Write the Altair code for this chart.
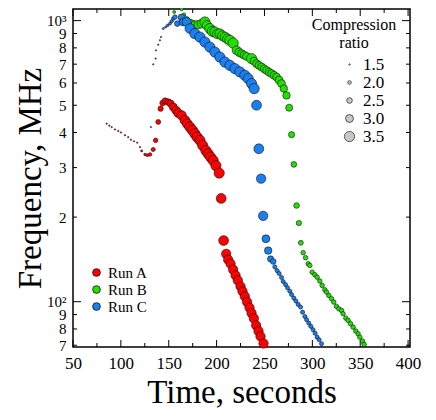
import altair as alt
import pandas as pd

# ---------------- data ----------------
runs = ["Run A", "Run B", "Run C"]
colors = ["#ff0000", "#22e000", "#1a7ff0"]

# Run A (red)
tA = [85.2, 87.9, 90.4, 93.8, 97.3, 100.1, 104.3, 107.7, 110.5, 113.7,
      117.1, 119.9, 121.7, 125.2, 127.6, 130.4, 133.8, 136.3, 139.0, 141.5,
      143.6, 146.3, 149.5, 152.0, 154.7, 157.5, 159.9, 163.5, 166.9, 169.3,
      172.1, 174.9, 177.3, 179.7, 182.6, 185.4, 188.8, 191.2, 193.7, 196.4,
      199.3, 202.7, 204.8, 207.3, 210.0, 212.1, 214.6, 217.3, 219.8, 222.2,
      225.0, 227.1, 229.5, 231.9, 234.4, 236.5, 238.9, 241.3, 243.8, 245.9,
      249.0]
fA = [430, 423, 418, 410, 405, 400, 391, 385, 377, 372,
      368, 355, 344, 334, 332, 334, 348, 375, 436, 486,
      509, 518, 513, 507, 493, 480, 469, 460, 442, 430,
      418, 407, 396, 385, 375, 360, 345, 336, 327, 318,
      305, 287, 233, 165, 148, 141, 136.5, 130, 124, 119,
      113.3, 108.8, 104.4, 99.7, 95.2, 91.1, 87.2, 82.4, 78.6, 75.2,
      71.0]
cA = [1.5, 1.5, 1.5, 1.5, 1.5, 1.5, 1.5, 1.5, 1.5, 1.5,
      1.5, 1.5, 1.6, 1.7, 1.8, 2.0, 2.1, 2.2, 2.3, 2.4,
      2.5, 2.6, 2.7, 2.8, 3.0, 3.1, 3.2, 3.3, 3.4, 3.4,
      3.5, 3.5, 3.5, 3.5, 3.5, 3.5, 3.5, 3.5, 3.5, 3.5,
      3.5, 3.5, 3.4, 3.4, 3.3, 3.3, 3.3, 3.3, 3.3, 3.3,
      3.3, 3.3, 3.3, 3.3, 3.3, 3.3, 3.3, 3.3, 3.3, 3.3,
      3.3]

# Run B (green)
tB = [155.7, 163.5, 165.9, 168.7, 171.1, 173.9, 177.3, 180.8, 184.3, 187.8,
      189.9, 193.0, 195.6, 198.2, 200.8, 203.4, 206.0, 208.7, 211.3, 213.9,
      217.3, 220.9, 223.5, 226.1, 228.7, 231.3, 236.5, 239.0, 241.7, 244.3,
      247.0, 249.6, 252.2, 254.8, 257.4, 260.0, 262.6, 265.2, 267.8, 270.2,
      273.0, 275.8, 278.3, 280.7, 283.5, 285.9, 288.0,
      290.4, 292.9, 295.6, 297.4, 299.8, 302.6, 305.0, 307.8, 310.2, 313.0,
      314.8, 317.2, 320.0, 322.4, 325.2, 327.7, 330.5, 332.1, 335.0, 337.4,
      339.9, 342.6, 345.4, 347.8, 349.6, 352.4, 354.1]
fB = [1073, 1100, 1050, 1011, 986, 976, 968, 968, 976, 989,
      962, 937, 916, 911, 897, 898, 883, 874, 861, 851,
      832, 784, 772, 763, 754, 746, 733, 718, 703, 693,
      684, 674, 665, 656, 648, 639, 630, 615, 597, 573,
      542, 490, 393, 308, 220, 190.5, 162,
      149.4, 143.4, 136.5, 134.6, 127.4, 124.7, 122.2, 118.4, 114.3, 110.3,
      108.2, 105.3, 102.5, 99.7, 96.2, 94.4, 93.1, 90.6, 87.4, 85.8,
      83.5, 81.2, 78.6, 76.9, 74.8, 72.4, 70.5]
cB = [1.8, 2.0, 2.0, 2.5, 2.8, 3.0, 3.0, 3.1, 3.2, 3.5,
      3.3, 3.5, 3.5, 3.5, 3.4, 3.4, 3.4, 3.4, 3.4, 3.5,
      3.5, 3.2, 3.1, 3.0, 3.0, 3.0, 3.5, 3.0, 3.0, 3.0,
      3.0, 3.0, 3.0, 3.0, 3.0, 3.0, 3.0, 3.0, 3.0, 2.9,
      2.9, 2.8, 2.6, 2.5, 2.5, 2.4, 2.3,
      2.2, 2.2, 2.2, 2.2, 2.2, 2.2, 2.2, 2.2, 2.2, 2.2,
      2.2, 2.2, 2.2, 2.2, 2.2, 2.2, 2.2, 2.2, 2.2, 2.2,
      2.2, 2.2, 2.2, 2.2, 2.2, 2.2, 2.2]

# Run C (blue)
tC = [131.4, 133.8, 136.3, 136.6, 139.0, 140.8, 141.9, 144.3, 146.8, 148.9,
      151.3, 153.0, 154.7, 156.5, 158.9, 163.5, 165.2, 168.7, 172.1, 177.3,
      182.6, 187.8, 193.0, 198.2, 203.4, 208.7, 213.9, 219.1, 224.3, 229.5,
      233.0, 236.5, 239.2, 241.7, 244.1, 246.5, 248.6, 251.5, 253.9, 256.4,
      259.1, 260.8, 263.2, 265.3, 267.8, 269.5, 272.0, 274.1, 276.5, 278.3,
      280.7, 282.8, 285.2, 287.7, 289.8, 292.2, 294.0, 296.3, 298.4, 300.8,
      302.9, 305.0, 307.1, 309.6]
fC = [418, 699, 733, 784, 821, 851, 874, 937, 949, 962,
      976, 994, 1016, 1030, 976, 1025, 989, 989, 937, 899,
      874, 839, 805, 773, 742, 712, 693, 675, 657, 639,
      622, 597, 573, 500, 350, 274, 202, 167.5, 152, 142,
      139, 133, 129, 126, 122, 118, 115, 112, 109, 106,
      103, 100.5, 97.8, 95.7, 91.8, 88.6, 86.3, 83.9, 81.7, 79.5,
      77.2, 74.8, 73.2, 70.9]
cC = [1.5, 1.5, 1.5, 1.5, 1.5, 1.5, 1.5, 1.6, 1.6, 1.7,
      1.8, 1.9, 2.0, 2.2, 2.5, 2.8, 3.0, 3.2, 3.4, 3.5,
      3.5, 3.5, 3.5, 3.5, 3.5, 3.5, 3.5, 3.5, 3.5, 3.5,
      3.5, 3.5, 3.5, 3.4, 3.4, 3.3, 3.3, 3.0, 2.9, 2.6,
      2.5, 2.1, 2.1, 2.1, 2.1, 2.1, 2.1, 2.1, 2.1, 2.1,
      2.1, 2.1, 2.1, 2.1, 2.1, 2.1, 2.1, 2.1, 2.1, 2.1,
      2.1, 2.1, 2.1, 2.1]

x_ticks = [50, 100, 150, 200, 250, 300, 350, 400]
x_minor = [75, 125, 175, 225, 275, 325, 375]
y_ticks = [70, 80, 90, 100, 200, 300, 400, 500, 600, 700, 800, 900, 1000]
y_major = [100, 1000]
y_minor = [70, 80, 90, 200, 300, 400, 500, 600, 700, 800, 900]
ratio_values = [1.5, 2.0, 2.5, 3.0, 3.5]

# ---------------- build ----------------
rows = []
for name, ts, fs, cs in [("Run A", tA, fA, cA), ("Run B", tB, fB, cB), ("Run C", tC, fC, cC)]:
    for t, f, c in zip(ts, fs, cs):
        rows.append({"run": name, "time": t, "freq": f, "ratio": c})
df = pd.DataFrame(rows)

W, H = 337, 338
FONT = "Liberation Serif"

xscale = alt.Scale(domain=[50, 402], nice=False, zero=False)
yscale = alt.Scale(type="log", domain=[69, 1100], nice=False)

points = alt.Chart(df).mark_circle(opacity=1, stroke="#111111", strokeWidth=0.6).encode(
    x=alt.X("time:Q", scale=xscale,
            axis=alt.Axis(values=x_ticks, title="Time, seconds", ticks=False, tickSize=0,
                          domain=False, grid=False, labelFontSize=17, labelPadding=8,
                          titleFontSize=33, titleFontWeight="normal", titlePadding=5,
                          labelFlush=False, labelOverlap=False)),
    y=alt.Y("freq:Q", scale=yscale,
            axis=alt.Axis(values=y_ticks, title="Frequency, MHz", ticks=False, tickSize=0,
                          domain=False, grid=False, labelFontSize=15, labelPadding=7,
                          labelExpr="datum.value == 1000 ? '10³' : datum.value == 100 ? '10²' : format(datum.value / (datum.value >= 100 ? 100 : 10), 'd')",
                          titleFontSize=33, titleFontWeight="normal", titlePadding=-1,
                          labelFlush=False, labelOverlap=False)),
    color=alt.Color("run:N", scale=alt.Scale(domain=runs, range=colors),
                    legend=alt.Legend(title=None, orient="none", legendX=16, legendY=256,
                                      symbolType="circle", symbolSize=60,
                                      symbolStrokeColor="#111111", symbolStrokeWidth=0.8,
                                      labelFontSize=15, labelFont=FONT, rowPadding=1,
                                      labelOffset=4)),
    size=alt.Size("ratio:Q",
                  scale=alt.Scale(domain=[1.5, 2.0, 2.5, 3.0, 3.5], range=[2, 13, 32, 62, 105]),
                  legend=alt.Legend(title=["Compression", "ratio"], orient="none",
                                    legendX=239, legendY=8, values=ratio_values, format=".1f",
                                    symbolFillColor="#c8c8c8", symbolStrokeColor="#333333",
                                    symbolStrokeWidth=0.8, symbolType="circle",
                                    titleAlign="center", titleAnchor="middle",
                                    titleFontSize=16, titleFont=FONT, titleFontWeight="normal",
                                    labelFontSize=17, labelFont=FONT, rowPadding=0,
                                    symbolOffset=18, labelOffset=5)),
    order=alt.Order("idx:Q"),
).transform_window(idx="row_number()")

def tick_layer(vals, axis, side, length):
    d = pd.DataFrame({"v": vals})
    base = alt.Chart(d).mark_rule(color="black", strokeWidth=1)
    if axis == "x":
        if side == "bottom":
            return base.encode(x=alt.X("v:Q", scale=xscale), y=alt.value(H), y2=alt.value(H - length))
        return base.encode(x=alt.X("v:Q", scale=xscale), y=alt.value(0), y2=alt.value(length))
    if side == "left":
        return base.encode(y=alt.Y("v:Q", scale=yscale), x=alt.value(0), x2=alt.value(length))
    return base.encode(y=alt.Y("v:Q", scale=yscale), x=alt.value(W), x2=alt.value(W - length))

ticks = [
    tick_layer(x_ticks, "x", "bottom", 7), tick_layer(x_minor, "x", "bottom", 4),
    tick_layer(x_ticks, "x", "top", 7), tick_layer(x_minor, "x", "top", 4),
    tick_layer(y_major, "y", "left", 8), tick_layer(y_minor, "y", "left", 4),
    tick_layer(y_major, "y", "right", 8), tick_layer(y_minor, "y", "right", 4),
]

chart = alt.layer(*ticks, points).properties(
    width=W, height=H,
    autosize=alt.AutoSizeParams(type="none"),
    padding={"left": 65, "top": 1, "right": 12, "bottom": 64},
).configure_view(
    stroke="black", strokeWidth=1.5
).configure_axis(
    labelFont=FONT, titleFont=FONT, labelColor="black", titleColor="black"
).configure_legend(
    labelColor="black", titleColor="black"
)

chart.save("out.html", embed_options={"renderer": "svg", "actions": False})
